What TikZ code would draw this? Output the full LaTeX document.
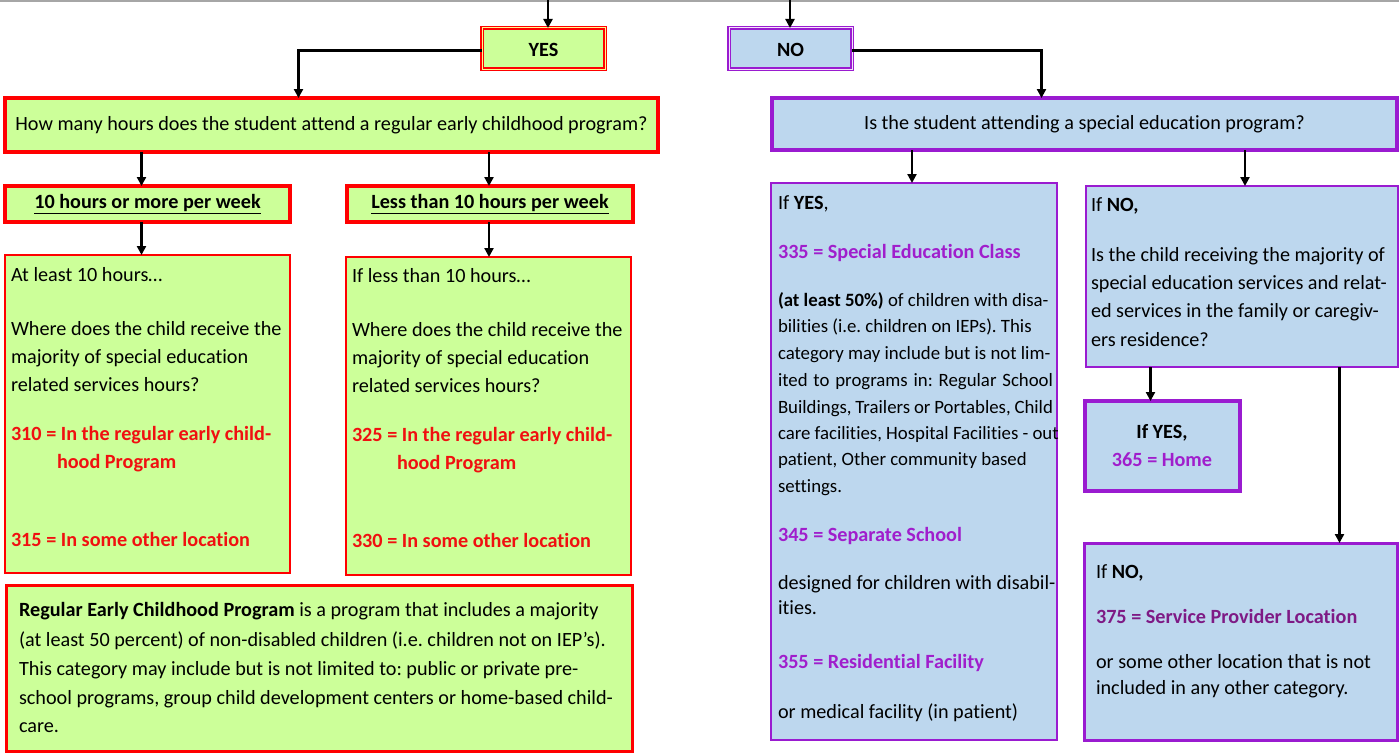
\documentclass[tikz,border=0pt]{standalone}
\usepackage{fontspec}
\setmainfont[Ligatures=NoCommon]{Carlito}
\usetikzlibrary{arrows.meta}
\frenchspacing
\definecolor{lgreen}{HTML}{CCFF99}
\definecolor{lblue}{HTML}{BDD7EE}
\definecolor{purp}{HTML}{9A1BD0}
\definecolor{ptxt}{HTML}{A01ECC}
\definecolor{dptxt}{HTML}{7E1A85}
\definecolor{rtxt}{HTML}{F01010}
\newcommand\fA{\fontsize{20.2}{23}\selectfont}
\newcommand\fB{\fontsize{18.8}{22}\selectfont}
\tikzset{
  gbox/.style={draw=red, fill=lgreen, inner sep=0pt, outer sep=0pt, anchor=north west, font=\fA},
  bbox/.style={draw=purp, fill=lblue, inner sep=0pt, outer sep=0pt, anchor=north west, font=\fA},
  txt/.style={anchor=base west, inner sep=0pt, outer sep=0pt, font=\fA},
  stxt/.style={anchor=base west, inner sep=0pt, outer sep=0pt, font=\fB},
  ctxt/.style={anchor=base, inner sep=0pt, outer sep=0pt, font=\fA},
  arr/.style={line width=2.4pt, -{Triangle[length=9pt,width=9pt]}},
}
\begin{document}
\begin{tikzpicture}[x=1pt,y=-1pt]
\useasboundingbox (0,0) rectangle (1399,752);
\fill[white] (0,0) rectangle (1399,752);
\draw[gray!70, line width=1.5pt] (0,0.8) -- (1399,0.8);

% top free ends
\coordinate (topL) at (548,0);
\coordinate (topR) at (790,0);

% YES / NO
\node[gbox, draw=red, line width=1.9pt, double=yellow!45!white, double distance=1pt, minimum width=123pt, minimum height=41pt, text depth=0pt, text height=16pt] (yes) at (482,28) {\textbf{YES}};
\node[bbox, line width=1.9pt, double=purp!12!white, double distance=1pt, minimum width=123pt, minimum height=41pt, text depth=0pt, text height=16pt] (no) at (729,28) {\textbf{NO}};

% question boxes
\node[gbox, line width=4pt, minimum width=653pt, minimum height=54pt] (qL) at (5,98) {How many hours does the student attend a regular early childhood program?};
\node[bbox, line width=4pt, minimum width=625pt, minimum height=52pt] (qR) at (772,98) {Is the student attending a special education program?};

% hours boxes
\node[gbox, line width=3.5pt, minimum width=285pt, minimum height=36pt] (h10) at (5,186) {\textbf{\underline{10 hours or more per week}}};
\node[gbox, line width=3.5pt, minimum width=286pt, minimum height=36pt] (hlt) at (347,186) {\textbf{\underline{Less than 10 hours per week}}};

% detail boxes left
\node[gbox, line width=2.2pt, minimum width=285pt, minimum height=318pt] (atl) at (5,255) {};
\node[gbox, line width=2.2pt, minimum width=285pt, minimum height=318pt] (ifl) at (346,257) {};
\node[gbox, line width=3pt, minimum width=626pt, minimum height=166pt] (def) at (6,585) {};

% right boxes
\node[bbox, line width=2.2pt, minimum width=286pt, minimum height=557pt] (ify) at (771,183) {};
\node[bbox, line width=2.2pt, minimum width=312pt, minimum height=181pt] (ifn) at (1086,186) {};
\node[bbox, line width=3.2pt, minimum width=155pt, minimum height=90pt] (home) at (1085,401) {};
\node[bbox, line width=3pt, minimum width=313pt, minimum height=197pt] (spl) at (1084,543) {};

% connectors
\draw[arr] (topL) -- (yes.north -| topL);
\draw[arr] (topR) -- (no.north -| topR);
\draw[arr] ([yshift=-2pt]yes.west) -| ([xshift=-33pt]qL.north);
\draw[arr] ([yshift=-2pt]no.east) -| ([xshift=-43pt]qR.north);
\draw[arr] ([xshift=-6pt]h10.north |- qL.south) -- ([xshift=-6pt]h10.north);
\draw[arr] ([xshift=-1pt]hlt.north |- qL.south) -- ([xshift=-1pt]hlt.north);
\draw[arr] ([xshift=-6pt]h10.south) -- ([xshift=-6pt]atl.north);
\draw[arr] ([xshift=-1pt]hlt.south) -- ([xshift=-1pt]hlt.south |- ifl.north);
\draw[arr] ([xshift=-2pt]ify.north |- qR.south) -- ([xshift=-2pt]ify.north);
\draw[arr] ([xshift=3pt]ifn.north |- qR.south) -- ([xshift=3pt]ifn.north);
\draw[arr] ([xshift=-12pt]home.north |- ifn.south) -- ([xshift=-12pt]home.north);
\draw[arr] ([xshift=99pt]spl.north |- ifn.south) -- ([xshift=99pt]spl.north);

% text: at least box
\node[txt] (a1) at (11,281) {At least 10 hours…};
\node[txt] (a2) at (11,335) {Where does the child receive the};
\node[txt] (a3) at (11,363) {majority of special education};
\node[txt] (a4) at (11,391) {related services hours?};
\node[txt, text=rtxt] (a5) at (11,440) {\textbf{310 = In the regular early child-}};
\node[txt, text=rtxt] (a6) at (57,468) {\textbf{hood Program}};
\node[txt, text=rtxt] (a7) at (11,546) {\textbf{315 = In some other location}};

% text: if less box
\node[txt] (b1) at (352,282) {If less than 10 hours…};
\node[txt] (b2) at (352,336) {Where does the child receive the};
\node[txt] (b3) at (352,364) {majority of special education};
\node[txt] (b4) at (352,392) {related services hours?};
\node[txt, text=rtxt] (b5) at (352,441) {\textbf{325 = In the regular early child-}};
\node[txt, text=rtxt] (b6) at (397,469) {\textbf{hood Program}};
\node[txt, text=rtxt] (b7) at (352,547) {\textbf{330 = In some other location}};

% text: definition box
\node[txt] (d1) at (19,616) {\textbf{Regular Early Childhood Program} is a program that includes a majority};
\node[txt] (d2) at (19,646) {(at least 50 percent) of non-disabled children (i.e. children not on IEP’s).};
\node[txt] (d3) at (19,675) {This category may include but is not limited to: public or private pre-};
\node[txt] (d4) at (19,704) {school programs, group child development centers or home-based child-};
\node[txt] (d5) at (19,732) {care.};

% text: if yes box
\node[txt] (y1) at (778,209) {If \textbf{YES},};
\node[txt, text=ptxt] (y2) at (778,258) {\textbf{335 = Special Education Class}};
\node[stxt] (y3) at (778,306) {\textbf{(at least 50\%)} of children with disa-};
\node[stxt] (y4) at (778,332) {bilities (i.e. children on IEPs). This};
\node[stxt] (y5) at (778,359) {category may include but is not lim-};
\node[stxt] (y6) at (778,386) {\makebox[275pt][s]{ited to programs in: Regular School}};
\node[stxt] (y7) at (778,413) {\makebox[275pt][s]{Buildings, Trailers or Portables, Child}};
\node[stxt] (y8) at (778,439) {care facilities, Hospital Facilities - out};
\node[stxt] (y9) at (778,465) {patient, Other community based};
\node[stxt] (y10) at (778,492) {settings.};
\node[txt, text=ptxt] (y11) at (778,541) {\textbf{345 = Separate School}};
\node[txt] (y12) at (778,589) {designed for children with disabil-};
\node[txt] (y13) at (778,614) {ities.};
\node[txt, text=ptxt] (y14) at (778,668) {\textbf{355 = Residential Facility}};
\node[txt] (y15) at (778,718) {or medical facility (in patient)};

% text: if no box
\node[txt] (n1) at (1091,211) {If \textbf{NO,}};
\node[txt] (n2) at (1091,261) {Is the child receiving the majority of};
\node[txt] (n3) at (1091,289) {special education services and relat-};
\node[txt] (n4) at (1091,317) {ed services in the family or caregiv-};
\node[txt] (n5) at (1091,346) {ers residence?};

% text: home box
\node[ctxt] (h1) at (1162,438) {\textbf{If YES,}};
\node[ctxt, text=ptxt] (h2) at (1162,466) {\textbf{365 = Home}};

% text: service provider box
\node[txt] (s1) at (1096,578) {If \textbf{NO,}};
\node[txt, text=dptxt] (s2) at (1096,623) {\textbf{375 = Service Provider Location}};
\node[txt] (s3) at (1096,668) {or some other location that is not};
\node[txt] (s4) at (1096,694) {included in any other category.};
\end{tikzpicture}
\end{document}
